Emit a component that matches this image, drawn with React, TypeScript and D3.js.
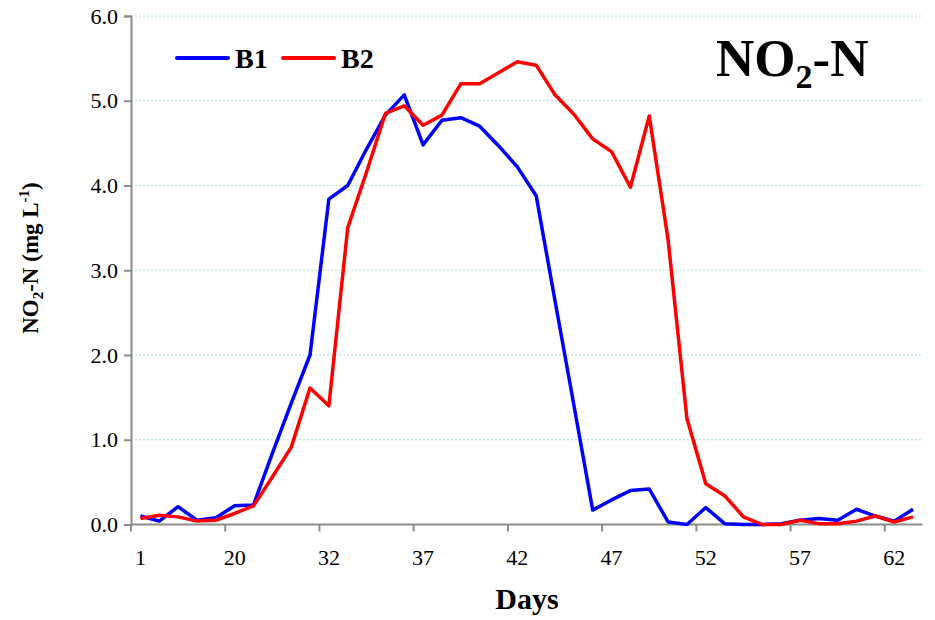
import React, { useEffect, useRef } from "react";
import * as d3 from "d3";

// sampling days (only every 5th one is labelled on the axis)
const days = [1, 5, 9, 13, 17, 20, 22, 25, 27, 30, 32, 33, 34, 35, 36, 37, 38, 39, 40, 41, 42,
  43, 44, 45, 46, 47, 48, 49, 50, 51, 52, 53, 54, 55, 56, 57, 58, 59, 60, 61, 62, 63];

const b1 = [0.10, 0.04, 0.21, 0.05, 0.08, 0.22, 0.23, 0.84, 1.43, 2.0, 3.84, 4.0, 4.43, 4.83,
  5.07, 4.48, 4.77, 4.80, 4.70, 4.47, 4.22, 3.88, 2.64, 1.41, 0.17, 0.29, 0.40, 0.42, 0.03, 0.0,
  0.20, 0.01, 0.0, 0.0, 0.01, 0.05, 0.07, 0.05, 0.18, 0.10, 0.04, 0.18];

const b2 = [0.07, 0.11, 0.09, 0.04, 0.05, 0.13, 0.22, 0.56, 0.91, 1.61, 1.40, 3.50, 4.16, 4.85,
  4.94, 4.71, 4.83, 5.20, 5.20, 5.33, 5.46, 5.42, 5.07, 4.84, 4.55, 4.40, 3.98, 4.82, 3.36, 1.25,
  0.48, 0.34, 0.09, 0.0, 0.0, 0.05, 0.01, 0.01, 0.04, 0.10, 0.03, 0.09];

const yTicks = [0, 1, 2, 3, 4, 5, 6];

const series = [
  { name: "B1", values: b1, color: "#0000ff" },
  { name: "B2", values: b2, color: "#ff0000" },
];

export default function App() {
  const ref = useRef<SVGSVGElement>(null);

  useEffect(() => {
    const svg = d3.select(ref.current);
    svg.selectAll("*").remove();

    const left = 131, right = 922.5, top = 16, bottom = 524.5;
    const font = "'Liberation Serif', 'Times New Roman', serif";

    const x = d3.scaleBand<number>().domain(d3.range(days.length)).range([left, right]);
    const y = d3.scaleLinear().domain([0, 6]).range([bottom, top]);
    const cx = (i: number) => (x(i) as number) + x.bandwidth() / 2;

    // grid
    svg.append("g")
      .selectAll("line")
      .data(yTicks.filter((d) => d > 0))
      .join("line")
      .attr("x1", left).attr("x2", right)
      .attr("y1", (d) => y(d)).attr("y2", (d) => y(d))
      .attr("stroke", "#a6dbe0")
      .attr("stroke-width", 1)
      .attr("stroke-dasharray", "2,2");

    // y axis
    const yAxis = svg.append("g").attr("transform", `translate(${left},0)`)
      .call(d3.axisLeft(y).tickValues(yTicks).tickFormat(d3.format(".1f")).tickSize(7).tickPadding(6));
    yAxis.attr("font-family", font);
    yAxis.select(".domain").attr("stroke", "#8c8c8c").attr("stroke-width", 2);
    yAxis.selectAll(".tick line").attr("stroke", "#8c8c8c").attr("stroke-width", 2);
    yAxis.selectAll(".tick text").attr("font-family", font).attr("font-size", 22).attr("fill", "#000");

    // x axis: ticks between categories every 5, labels on category centres
    const gx = svg.append("g");
    gx.append("line")
      .attr("x1", left).attr("x2", right).attr("y1", bottom).attr("y2", bottom)
      .attr("stroke", "#8c8c8c").attr("stroke-width", 2);
    const labelIdx = d3.range(0, days.length, 5);
    gx.selectAll("line.tk")
      .data(labelIdx)
      .join("line")
      .attr("class", "tk")
      .attr("x1", (i) => x(i) as number).attr("x2", (i) => x(i) as number)
      .attr("y1", bottom).attr("y2", bottom + 7)
      .attr("stroke", "#8c8c8c").attr("stroke-width", 2);
    gx.selectAll("text")
      .data(labelIdx)
      .join("text")
      .attr("x", (i) => cx(i))
      .attr("y", bottom + 40)
      .attr("text-anchor", "middle")
      .attr("font-family", font)
      .attr("font-size", 22)
      .text((i) => days[i]);

    // lines
    const line = d3.line<number>().x((_, i) => cx(i)).y((d) => y(d));
    svg.append("g")
      .selectAll("path")
      .data(series)
      .join("path")
      .attr("d", (s) => line(s.values))
      .attr("fill", "none")
      .attr("stroke", (s) => s.color)
      .attr("stroke-width", 3.5)
      .attr("stroke-linejoin", "round");

    // legend
    const lg = svg.append("g").selectAll("g").data(series).join("g")
      .attr("transform", (_, i) => `translate(${177 + i * 106},58)`);
    lg.append("line").attr("x1", 0).attr("x2", 51).attr("stroke", (s) => s.color)
      .attr("stroke-width", 4).attr("stroke-linecap", "round");
    lg.append("text").attr("x", 58).attr("y", 10)
      .attr("font-family", font).attr("font-weight", "bold").attr("font-size", 28)
      .text((s) => s.name);

    // chart title
    const title = svg.append("text").attr("x", 716).attr("y", 76)
      .attr("font-family", font).attr("font-weight", "bold").attr("font-size", 53);
    title.append("tspan").text("NO");
    title.append("tspan").attr("font-size", 34).attr("dy", 12).text("2");
    title.append("tspan").attr("dy", -12).text("-N");

    // axis titles
    svg.append("text").attr("x", 527).attr("y", 609).attr("text-anchor", "middle")
      .attr("font-family", font).attr("font-weight", "bold").attr("font-size", 30).text("Days");

    const yt = svg.append("text").attr("transform", "translate(38,258) rotate(-90)")
      .attr("text-anchor", "middle")
      .attr("font-family", font).attr("font-weight", "bold").attr("font-size", 23);
    yt.append("tspan").text("NO");
    yt.append("tspan").attr("font-size", 15).attr("dy", 5).text("2");
    yt.append("tspan").attr("dy", -5).text("-N (mg L");
    yt.append("tspan").attr("font-size", 15).attr("dy", -9).text("-1");
    yt.append("tspan").attr("dy", 9).text(")");
  }, []);

  return (
    <svg ref={ref} width={935} height={620}
      style={{ position: "absolute", left: 0, top: 0, background: "#fff" }} />
  );
}
